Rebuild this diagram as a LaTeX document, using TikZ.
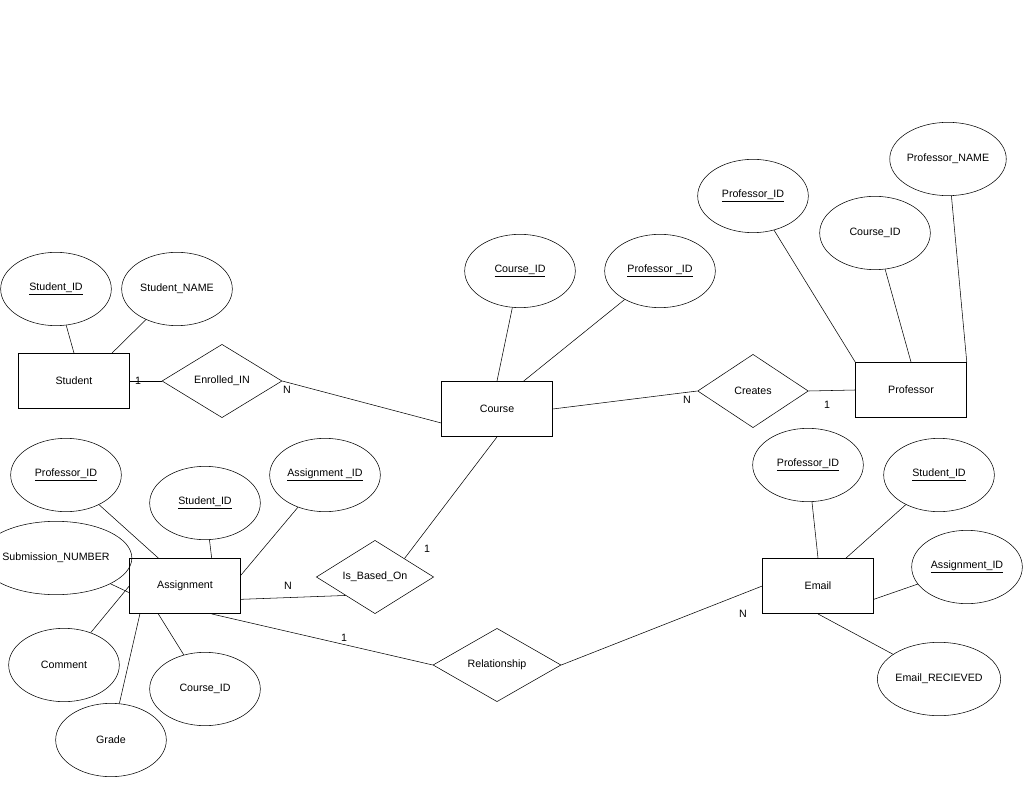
\documentclass[tikz,border=0pt]{standalone}
\usepackage{fontspec}
\setmainfont{Liberation Sans}
\usetikzlibrary{shapes.geometric}
\begin{document}
\begin{tikzpicture}[x=0.75pt,y=-0.75pt,
  every node/.style={font=\fontsize{8}{9}\selectfont},
  ent/.style={draw,minimum width=83.25pt,minimum height=41.5pt,inner sep=0pt},
  attr/.style={draw,ellipse,minimum width=83pt,minimum height=55pt,inner sep=0pt},
  rel/.style={draw,diamond,aspect=1.65,minimum width=90pt,minimum height=55pt,inner sep=0pt},
  lbl/.style={inner sep=0pt}]
\useasboundingbox (0,0) rectangle (1024,791);
% entities
\node[ent] (stu) at (74,381) {Student};
\node[ent] (crs) at (497,409) {Course};
\node[ent] (prof) at (911,390) {Professor};
\node[ent] (eml) at (818,586) {Email};
\node[ent] (asg) at (185,586) {Assignment};
% relationships
\node[rel] (enr) at (222,381) {Enrolled\_IN};
\node[rel,minimum width=83pt] (cre) at (753,391) {Creates};
\node[rel,minimum width=88pt] (ibo) at (375,577) {Is\_Based\_On};
\node[rel,minimum width=96pt] (rls) at (497,665) {Relationship};
% attributes
\node[attr] (sid) at (56,289) {\underline{Student\_ID}};
\node[attr] (snm) at (177,289) {Student\_NAME};
\node[attr] (cid) at (520,271) {\underline{Course\_ID}};
\node[attr] (cpid) at (660,271) {\underline{Professor \_ID}};
\node[attr] (ppid) at (753,196) {\underline{Professor\_ID}};
\node[attr] (pcid) at (875,233) {Course\_ID};
\node[attr] (pnm) at (948,159) {Professor\_NAME};
\node[attr] (epid) at (808,465) {\underline{Professor\_ID}};
\node[attr] (esid) at (939,475) {\underline{Student\_ID}};
\node[attr] (eaid) at (967,567) {\underline{Assignment\_ID}};
\node[attr] (erc) at (939,679) {Email\_RECIEVED};
\node[attr] (apid) at (66,475) {\underline{Professor\_ID}};
\node[attr] (asid) at (205,503) {\underline{Student\_ID}};
\node[attr] (aaid) at (325,475) {\underline{Assignment \_ID}};
\node[attr] (asub) at (56,558) {Submission\_NUMBER};
\node[attr] (acom) at (64,665) {Comment};
\node[attr] (acid) at (205,689) {Course\_ID};
\node[attr] (agr) at (111,740) {Grade};
% connectors
\draw (sid) -- (stu.north -| 74,353);
\draw (snm) -- ([xshift=28.5pt]stu.north);
\draw (stu) -- (enr);
\draw (enr.east) -- ([yshift=-10.5pt]crs.west);
\draw (cid) -- ([yshift=0pt]crs.north);
\draw (cpid) -- ([xshift=20pt]crs.north);
\draw (crs.east) -- (cre.west);
\draw (cre.east) -- (prof.west);
\draw (ppid) -- (prof.north west);
\draw (pcid) -- (prof.north);
\draw (pnm) -- (prof.north east);
\draw (crs.south) -- (ibo.north east);
\draw ([yshift=-10pt]asg.east) -- (ibo.south west);
\draw ([xshift=20pt]asg.south) -- (rls.west);
\draw (rls.east) -- (eml.west);
\draw (epid) -- (eml.north);
\draw (esid) -- ([xshift=21pt]eml.north);
\draw (eaid) -- ([yshift=-10pt]eml.east);
\draw (erc) -- (eml.south);
\draw (apid) -- ([xshift=-20pt]asg.north);
\draw (asid) -- ([xshift=20pt]asg.north);
\draw (aaid) -- ([yshift=8pt]asg.east);
\draw (asub) -- ([yshift=-5pt]asg.west);
\draw (acom) -- (asg.west);
\draw (agr) -- ([xshift=8pt]asg.south west);
\draw (acid) -- ([xshift=-20pt]asg.south);
% cardinalities
\node[lbl] at (138,381) {1};
\node[lbl] at (287,390) {N};
\node[lbl] at (687,400) {N};
\node[lbl] at (827,405) {1};
\node[lbl] at (427,549) {1};
\node[lbl] at (288,586) {N};
\node[lbl] at (344,638) {1};
\node[lbl] at (743,614) {N};
\end{tikzpicture}
\end{document}
